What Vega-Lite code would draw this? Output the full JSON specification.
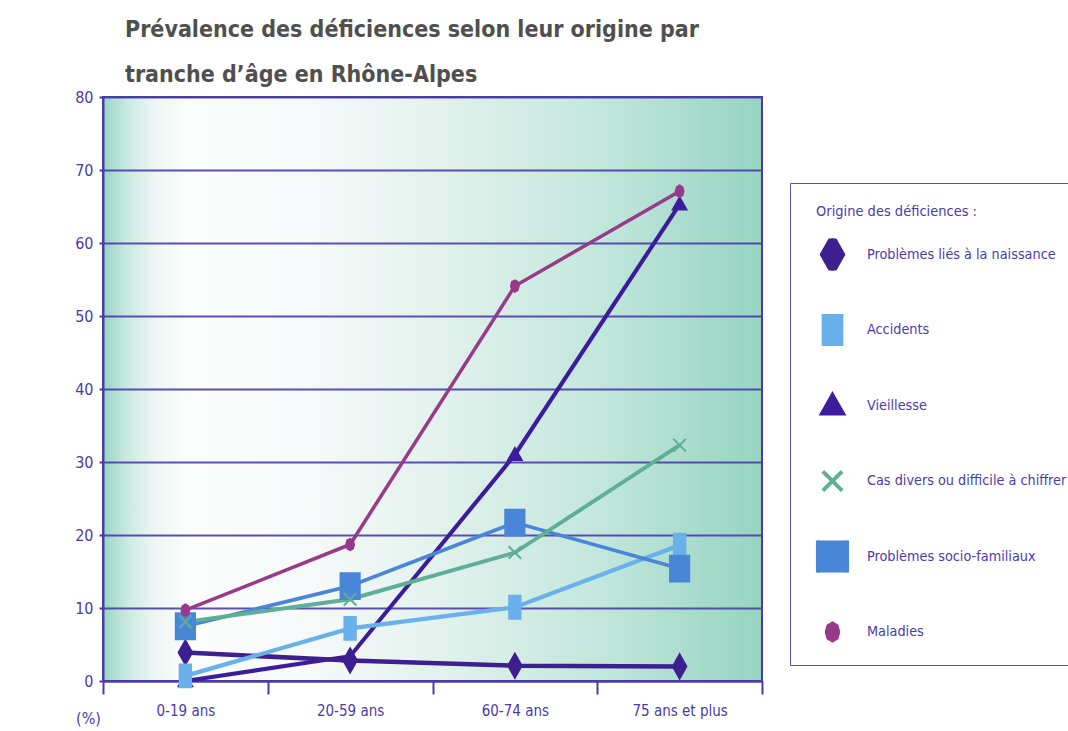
{
  "$schema": "https://vega.github.io/schema/vega-lite/v6.json",
  "autosize": "none",
  "width": 659,
  "height": 584,
  "padding": {"left": 103, "top": 97, "right": 306, "bottom": 50},
  "background": "white",
  "title": {
    "text": ["Prévalence des déficiences selon leur origine par", "tranche d’âge en Rhône-Alpes"],
    "anchor": "start",
    "frame": "group",
    "dx": 22,
    "offset": 2,
    "font": "Liberation Sans Narrow, Noto Sans Condensed, DejaVu Sans Condensed, Roboto Condensed, Roboto",
    "fontSize": 23,
    "fontWeight": "bold",
    "color": "#4f4f4f",
    "lineHeight": 45
  },
  "config": {
    "view": {
      "fill": {
        "gradient": "linear", "x1": 0, "x2": 1, "y1": 0, "y2": 0,
        "stops": [
          {"offset": 0, "color": "#99d5c4"},
          {"offset": 0.04, "color": "#cdebe3"},
          {"offset": 0.08, "color": "#eef7f5"},
          {"offset": 0.13, "color": "#fbfdfc"},
          {"offset": 0.3, "color": "#f7fafa"},
          {"offset": 0.48, "color": "#e6f3ef"},
          {"offset": 0.75, "color": "#c3e7dc"},
          {"offset": 1, "color": "#96d4c1"}
        ]
      },
      "stroke": "#4a3ca8",
      "strokeWidth": 2
    },
    "axis": {
      "labelFont": "Liberation Sans Narrow, Noto Sans Condensed, DejaVu Sans Condensed, Roboto Condensed, Roboto",
      "labelColor": "#4a3ca8",
      "titleFont": "Liberation Sans Narrow, Noto Sans Condensed, DejaVu Sans Condensed, Roboto Condensed, Roboto",
      "titleColor": "#4a3ca8",
      "domainColor": "#4a3ca8",
      "domainWidth": 2,
      "tickColor": "#4a3ca8",
      "tickWidth": 2
    }
  },
  "data": {
    "values": [
      {"age": "0-19 ans", "o": "Vieillesse", "s": "Vieillesse", "v": 0},
      {"age": "20-59 ans", "o": "Vieillesse", "s": "Vieillesse", "v": 3.4},
      {"age": "60-74 ans", "o": "Vieillesse", "s": "Vieillesse", "v": 31.0},
      {"age": "75 ans et plus", "o": "Vieillesse", "s": "Vieillesse", "v": 65.3},
      {"age": "0-19 ans", "o": "Problèmes liés à la naissance", "s": "Problèmes liés à la naissance", "v": 3.9},
      {"age": "20-59 ans", "o": "Problèmes liés à la naissance", "s": "Problèmes liés à la naissance", "v": 2.8},
      {"age": "60-74 ans", "o": "Problèmes liés à la naissance", "s": "Problèmes liés à la naissance", "v": 2.1},
      {"age": "75 ans et plus", "o": "Problèmes liés à la naissance", "s": "Problèmes liés à la naissance", "v": 2.0},
      {"age": "0-19 ans", "o": "Accidents", "s": "Accidents", "v": 0.7},
      {"age": "20-59 ans", "o": "Accidents", "s": "Accidents", "v": 7.2},
      {"age": "60-74 ans", "o": "Accidents", "s": "Accidents", "v": 10.1},
      {"age": "75 ans et plus", "o": "Accidents", "s": "Accidents", "v": 18.6},
      {"age": "0-19 ans", "o": "Problèmes socio-familiaux", "s": "Problèmes socio-familiaux", "v": 7.5},
      {"age": "20-59 ans", "o": "Problèmes socio-familiaux", "s": "Problèmes socio-familiaux", "v": 13.0},
      {"age": "60-74 ans", "o": "Problèmes socio-familiaux", "s": "Problèmes socio-familiaux", "v": 21.7},
      {"age": "75 ans et plus", "o": "Problèmes socio-familiaux", "s": "Problèmes socio-familiaux", "v": 15.4},
      {"age": "0-19 ans", "o": "Cas divers ou difficile à chiffrer", "s": "Cas divers ou difficile à chiffrer", "v": 8.1},
      {"age": "20-59 ans", "o": "Cas divers ou difficile à chiffrer", "s": "Cas divers ou difficile à chiffrer", "v": 11.2},
      {"age": "60-74 ans", "o": "Cas divers ou difficile à chiffrer", "s": "Cas divers ou difficile à chiffrer", "v": 17.6},
      {"age": "75 ans et plus", "o": "Cas divers ou difficile à chiffrer", "s": "Cas divers ou difficile à chiffrer", "v": 32.3},
      {"age": "0-19 ans", "o": "Maladies", "s": "Maladies", "v": 9.7},
      {"age": "20-59 ans", "o": "Maladies", "s": "Maladies", "v": 18.7},
      {"age": "60-74 ans", "o": "Maladies", "s": "Maladies", "v": 54.1},
      {"age": "75 ans et plus", "o": "Maladies", "s": "Maladies", "v": 67.1}
    ]
  },
  "encoding": {
    "x": {
      "field": "age", "type": "nominal", "sort": null,
      "scale": {"type": "band", "paddingInner": 0, "paddingOuter": 0},
      "axis": {"title": null, "labelAngle": 0, "tickBand": "extent", "tickSize": 13, "labelPadding": 9, "labelFontSize": 15, "grid": false}
    },
    "y": {
      "field": "v", "type": "quantitative",
      "scale": {"domain": [0, 80], "nice": false, "zero": false},
      "axis": {
        "values": [0, 10, 20, 30, 40, 50, 60, 70, 80],
        "title": "(%)", "titleAngle": 0, "titleX": -15, "titleY": 621,
        "titleAlign": "center", "titleBaseline": "middle",
        "titleFontWeight": "normal", "titleFontSize": 16, "labelFontSize": 16,
        "grid": true, "gridColor": "#4a3ca8", "gridWidth": 2, "gridOpacity": 0.9,
        "tickSize": 4, "labelPadding": 6
      }
    }
  },
  "layer": [
    {
      "mark": {"type": "line"},
      "encoding": {
        "color": {
          "field": "o", "type": "nominal",
          "scale": {
            "domain": ["Problèmes liés à la naissance", "Accidents", "Vieillesse", "Cas divers ou difficile à chiffrer", "Problèmes socio-familiaux", "Maladies"],
            "range": ["#3d1f90", "#6ab0ea", "#3c1c9c", "#5fae96", "#4a86d8", "#983a8a"]
          },
          "legend": {
            "orient": "none", "legendX": 687, "legendY": 86,
            "title": "Origine des déficiences :",
            "titleFont": "Liberation Sans Narrow, Noto Sans Condensed, DejaVu Sans Condensed, Roboto Condensed, Roboto",
            "titleFontSize": 14.5, "titleFontWeight": "normal", "titleColor": "#4a3ca8",
            "titlePadding": 24,
            "labelFont": "Liberation Sans Narrow, Noto Sans Condensed, DejaVu Sans Condensed, Roboto Condensed, Roboto",
            "labelFontSize": 14.3, "labelColor": "#4a3ca8", "labelLimit": 400, "labelOffset": 9,
            "strokeColor": "#5a4cb0", "fillColor": "white", "padding": 17,
            "symbolSize": 2116, "clipHeight": 32, "rowPadding": 43.5,
            "symbolOpacity": 1,
            "encode": {
              "title": {"update": {"dx": {"value": 9}, "dy": {"value": 5}}},
              "symbols": {
                "update": {
                  "shape": {"signal": "datum.value == 'Accidents' ? 'M-1,0H1M-0.26,-0.52H0.26V0.52H-0.26Z' : datum.value == 'Vieillesse' ? 'M-1,0H1M0,-0.32L0.3,0.03H-0.3Z' : datum.value == 'Cas divers ou difficile à chiffrer' ? 'M-1,0H1M-0.22,-0.22L0.22,0.22M-0.22,0.22L0.22,-0.22' : datum.value == 'Problèmes socio-familiaux' ? 'M-1,0H1M-0.48,-0.58H0.48V0.58H-0.48Z' : datum.value == 'Maladies' ? 'M-1,0H1M0,-0.26L0.15,-0.18L0.2,0L0.15,0.18L0,0.26L-0.15,0.18L-0.2,0L-0.15,-0.18Z' : 'M-1,0H1M0,-0.46L0.3,0L0,0.46L-0.3,0Z'"},
                  "fill": {"signal": "scale('color', datum.value)"},
                  "stroke": {"signal": "scale('color', datum.value)"},
                  "strokeWidth": {"value": 4},
                  "opacity": {"value": 1}
                }
              }
            }
          }
        },
        "strokeWidth": {
          "field": "o", "type": "nominal", "legend": null,
          "scale": {
            "domain": ["Problèmes liés à la naissance", "Accidents", "Vieillesse", "Cas divers ou difficile à chiffrer", "Problèmes socio-familiaux", "Maladies"],
            "range": [4.5, 3.5, 2.5, 3, 3.5, 2.5]
          }
        }
      }
    },
    {
      "mark": {"type": "point", "filled": true, "size": 900, "strokeWidth": 2, "opacity": 1},
      "encoding": {
        "color": {"field": "o", "type": "nominal"},
        "stroke": {
          "field": "s", "type": "nominal", "legend": null,
          "scale": {
            "domain": ["Problèmes liés à la naissance", "Accidents", "Vieillesse", "Cas divers ou difficile à chiffrer", "Problèmes socio-familiaux", "Maladies"],
            "range": ["#3d1f90", "#6ab0ea", "#3c1c9c", "#5fae96", "#4a86d8", "#983a8a"]
          }
        },
        "shape": {
          "field": "s", "type": "nominal", "legend": null,
          "scale": {
            "domain": ["Problèmes liés à la naissance", "Accidents", "Vieillesse", "Cas divers ou difficile à chiffrer", "Problèmes socio-familiaux", "Maladies"],
            "range": [
              "M0,-0.8L0.45,0L0,0.8L-0.45,0Z",
              "M-0.38,-0.76H0.38V0.76H-0.38Z",
              "M0,-0.45L0.45,0.35H-0.45Z",
              "M-0.42,-0.42L0.42,0.42M-0.42,0.42L0.42,-0.42",
              "M-0.64,-0.86H0.64V0.86H-0.64Z",
              "M0,-0.38L0.19,-0.27L0.26,0L0.19,0.27L0,0.38L-0.19,0.27L-0.26,0L-0.19,-0.27Z"
            ]
          }
        }
      }
    }
  ]
}
